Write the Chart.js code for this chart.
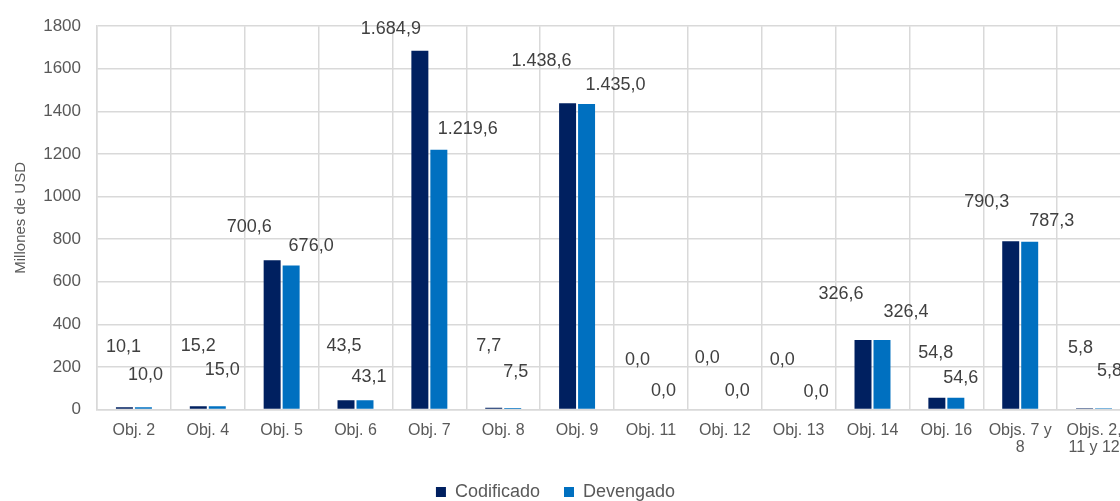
<!DOCTYPE html>
<html>
<head>
<meta charset="utf-8">
<script src="https://cdn.jsdelivr.net/npm/chart.js@4.4.0/dist/chart.umd.min.js"></script>
<style>
    html, body { margin: 0; padding: 0; background: #ffffff; overflow: hidden; }
    #wrap { width: 1150px; height: 520px; }
</style>
</head>
<body>
<div id="wrap"><canvas id="chartObjetivos" width="1150" height="520"></canvas></div>
<script>
'use strict';

//colors

var colorCodificado = "rgb(000,032,096)";
var colorDevengado = "rgb(000,112,192)";
var colorGrid = "rgb(217,217,217)";
var colorText = "rgb(089,089,089)";
var colorLabel = "rgb(064,064,064)";
var fontFamily = '"Liberation Sans", Arial, sans-serif';

//data

var categories = ['Obj. 2', 'Obj. 4', 'Obj. 5', 'Obj. 6', 'Obj. 7', 'Obj. 8', 'Obj. 9',
    'Obj. 11', 'Obj. 12', 'Obj. 13', 'Obj. 14', 'Obj. 16', ['Objs. 7 y', '8'], ['Objs. 2,', '11 y 12']];
var codificado = [10.1, 15.2, 700.6, 43.5, 1684.9, 7.7, 1438.6, 0.0, 0.0, 0.0, 326.6, 54.8, 790.3, 5.8];
var devengado = [10.0, 15.0, 676.0, 43.1, 1219.6, 7.5, 1435.0, 0.0, 0.0, 0.0, 326.4, 54.6, 787.3, 5.8];
var yTicks = [0, 200, 400, 600, 800, 1000, 1200, 1400, 1600, 1800];

//label offsets from the top of each bar (the labels were moved by hand in the original)

var offsetsCodificado = [[-1, -60], [0, -60], [-23, -33], [-2, -54], [-29, -22], [-5, -62], [-26, -42],
    [-4, -49], [-8, -51], [-7, -49], [-22, -46], [-1, -45], [-24, -39], [-4, -60]];
var offsetsDevengado = [[2, -32], [5, -36], [20, -20], [4, -23], [29, -21], [3, -36], [29, -19],
    [3, -18], [3, -18], [8, -17], [24, -28], [5, -20], [22, -21], [6, -37]];

var legendOffsetX = -10;

//number format 1.684,9

function formatValue(v) {
    var parts = v.toFixed(1).split('.');
    var intPart = parts[0].replace(/\B(?=(\d{3})+(?!\d))/g, '.');
    return intPart + ',' + parts[1];
}

//plugins

const barLabels = {
    id: 'barLabels',
    afterDatasetsDraw(chart) {
        var ctx = chart.ctx;
        var offsets = [offsetsCodificado, offsetsDevengado];
        ctx.save();
        ctx.font = '18px ' + fontFamily;
        ctx.fillStyle = colorLabel;
        ctx.textAlign = 'center';
        ctx.textBaseline = 'middle';
        chart.data.datasets.forEach(function (ds, d) {
            var meta = chart.getDatasetMeta(d);
            meta.data.forEach(function (bar, i) {
                ctx.fillText(formatValue(ds.data[i]), bar.x + offsets[d][i][0], bar.y + offsets[d][i][1]);
            });
        });
        ctx.restore();
    }
};

const legendShift = {
    id: 'legendShift',
    afterLayout(chart) {
        if (chart.legend) {
            chart.legend.left += legendOffsetX;
            chart.legend.right += legendOffsetX;
        }
    }
};

//chart

const chartData = {
    labels: categories,
    datasets: [{
        label: 'Codificado',
        backgroundColor: colorCodificado,
        borderWidth: 0,
        data: codificado,
        categoryPercentage: 0.514,
        barPercentage: 0.895
    },
    {
        label: 'Devengado',
        backgroundColor: colorDevengado,
        borderWidth: 0,
        data: devengado,
        categoryPercentage: 0.514,
        barPercentage: 0.895
    }]
};

const chartConfig = {
    type: 'bar',
    data: chartData,
    plugins: [barLabels, legendShift],
    options: {
        responsive: false,
        animation: false,
        layout: {
            padding: { top: 24, right: 19, bottom: 9, left: 0 }
        },
        plugins: {
            tooltip: { enabled: false },
            legend: {
                position: 'bottom',
                labels: {
                    boxWidth: 10,
                    boxHeight: 10,
                    padding: 24,
                    color: colorText,
                    font: { family: fontFamily, size: 18 }
                }
            }
        },
        scales: {
            x: {
                afterFit: function (scale) { scale.height = 49.5; },
                grid: { color: colorGrid, lineWidth: 1.5, offset: true, drawTicks: false },
                border: { color: colorGrid, width: 1.5 },
                ticks: {
                    color: colorText,
                    padding: 12,
                    maxRotation: 0,
                    autoSkip: false,
                    font: { family: fontFamily, size: 16, lineHeight: 1.1 }
                }
            },
            y: {
                min: 0,
                max: 1800,
                afterFit: function (scale) { scale.width = 97; },
                afterBuildTicks: function (scale) { scale.ticks = yTicks.map(function (v) { return { value: v }; }); },
                grid: { color: colorGrid, lineWidth: 1.5, drawTicks: false },
                border: { color: colorGrid, width: 1.5 },
                ticks: {
                    color: colorText,
                    padding: 16,
                    font: { family: fontFamily, size: 17 },
                    callback: function (v) { return String(v); }
                },
                title: {
                    display: true,
                    text: 'Millones de USD',
                    color: colorText,
                    padding: 12,
                    font: { family: fontFamily, size: 15 }
                }
            }
        }
    }
};

var chartObjetivos = new Chart(document.getElementById('chartObjetivos'), chartConfig);
</script>
</body>
</html>
